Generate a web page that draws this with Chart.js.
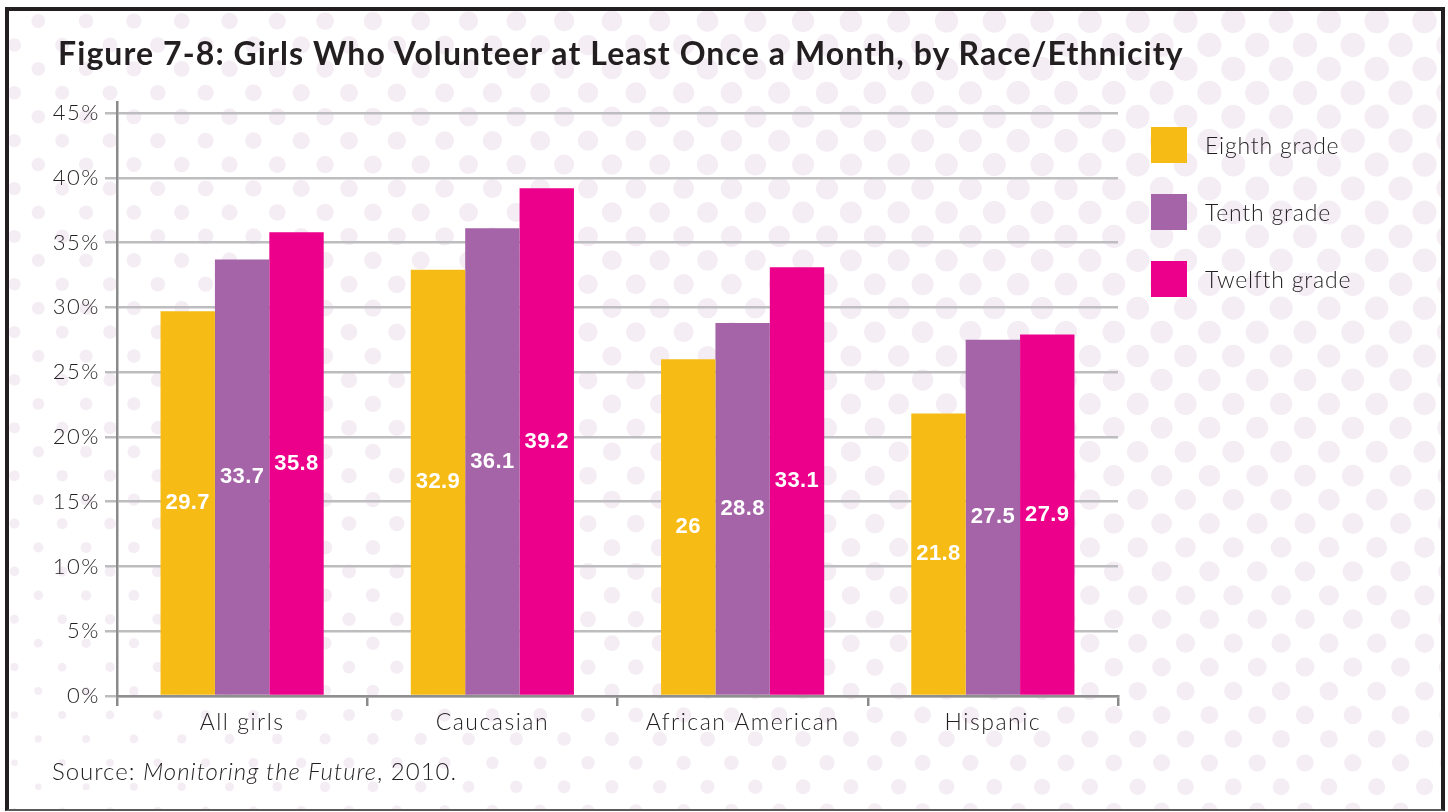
<!DOCTYPE html>
<html>
<head>
<meta charset="utf-8">
<script src="https://cdn.jsdelivr.net/npm/chart.js@4.4.1/dist/chart.umd.min.js"></script>
<style>
  body { margin: 0; background: #fff; }
  #wrap { position: relative; width: 1448px; height: 812px; overflow: hidden; font-family: Lato, "Open Sans", sans-serif; color: #231f20; }
  #chart { position: absolute; left: 0; top: 0; }
  #frame { position: absolute; left: 5px; top: 7px; width: 1432px; height: 798px; border: 4px solid #231f20; border-bottom: 2px solid #5a5a5a; pointer-events: none; }
  #title { position: absolute; left: 58px; top: 34px; font-size: 32px; font-weight: 700; white-space: nowrap; line-height: 1.2; }
  #source { position: absolute; left: 52px; top: 757px; font-size: 24px; font-weight: 300; line-height: 1.2; white-space: nowrap; letter-spacing: 1px; }
  #legend { position: absolute; left: 1151px; top: 127px; }
  .item { display: flex; align-items: center; height: 36px; margin-bottom: 31px; }
  .item span.box { width: 36px; height: 36px; margin-right: 18px; }
  .item span.txt { font-size: 23px; font-weight: 300; letter-spacing: 0.8px; }
</style>
</head>
<body>
<div id="wrap">
  <canvas id="chart" width="1448" height="812"></canvas>
  <div id="title">Figure 7-8: Girls Who Volunteer at Least Once a Month, by Race/Ethnicity</div>
  <div id="legend"></div>
  <div id="source">Source: <i>Monitoring the Future</i>, 2010.</div>
  <div id="frame"></div>
</div>
<script>
const categorias = ['All girls', 'Caucasian', 'African American', 'Hispanic'];
const series = ['Eighth grade', 'Tenth grade', 'Twelfth grade'];
const eighth = [29.7, 32.9, 26, 21.8];
const tenth = [33.7, 36.1, 28.8, 27.5];
const twelfth = [35.8, 39.2, 33.1, 27.9];
const yTicks = [0, 5, 10, 15, 20, 25, 30, 35, 40, 45];

const cores = ['#f6bc15', '#a564a7', '#ec008b'];
const valores = [eighth, tenth, twelfth];

// titulo esticado ate a largura do original
const titulo = document.getElementById('title');
const larguraNatural = titulo.offsetWidth;
const n = titulo.textContent.length;
titulo.style.letterSpacing = ((1125 - larguraNatural) / (n - 1)) + 'px';

// legenda em html
const legenda = document.getElementById('legend');
series.forEach(function (nome, i) {
  const item = document.createElement('div');
  item.className = 'item';
  item.innerHTML = '<span class="box" style="background:' + cores[i] + '"></span><span class="txt">' + nome + '</span>';
  legenda.appendChild(item);
});

// fundo de bolinhas
const bolinhas = {
  id: 'bolinhas',
  beforeDraw(chart) {
    const c = chart.ctx;
    c.save();
    c.beginPath();
    c.rect(9, 11, 1432, 799);
    c.clip();
    c.fillStyle = '#f4edf4';
    for (let k = 0; k < 36; k++) {
      const y = 21 + 23.93 * k;
      const x0 = (k % 2 === 0) ? 38.3 : 14.4;
      for (let x = x0 - 47.8; x < 1460; x += 47.8) {
        const dx = 1448 - x, dy = y * 1.5;
        let d = 24.5 - 5.36e-6 * (dx * dx + dy * dy);
        if (d < 3) d = 3;
        c.beginPath();
        c.arc(x, y, d / 2, 0, Math.PI * 2);
        c.fill();
      }
    }
    c.restore();
    c.letterSpacing = '1.5px';
  }
};

// rotulos dentro das barras
const rotulos = {
  id: 'rotulos',
  afterDatasetsDraw(chart) {
    const c = chart.ctx;
    c.save();
    c.letterSpacing = '0.4px';
    c.fillStyle = '#ffffff';
    c.font = 'bold 22px "Liberation Sans", Arial, sans-serif';
    c.textAlign = 'center';
    c.textBaseline = 'middle';
    chart.data.datasets.forEach(function (ds, i) {
      const meta = chart.getDatasetMeta(i);
      meta.data.forEach(function (bar, j) {
        c.fillText(String(ds.data[j]), bar.x, (bar.y + bar.base) / 2);
      });
    });
    c.restore();
  }
};

const ctx = document.getElementById('chart');

new Chart(ctx, {
  type: 'bar',
  data: {
    labels: categorias,
    datasets: series.map(function (nome, i) {
      return {
        label: nome,
        data: valores[i],
        backgroundColor: cores[i],
        borderWidth: 0,
        categoryPercentage: 0.652,
        barPercentage: 1
      };
    })
  },
  options: {
    responsive: false,
    animation: false,
    devicePixelRatio: 1,
    layout: { padding: { top: 102, right: 330, bottom: 56, left: 0 } },
    plugins: {
      legend: { display: false },
      tooltip: { enabled: false }
    },
    scales: {
      x: {
        afterFit: function (s) { s.height = 60; },
        grid: {
          offset: true,
          drawOnChartArea: false,
          color: '#8a8a8a',
          lineWidth: 2.5,
          tickLength: 10
        },
        border: { color: '#8f8f8f', width: 2.5 },
        ticks: {
          color: '#231f20',
          padding: 3,
          font: { family: 'Lato', size: 23, weight: 300 }
        }
      },
      y: {
        min: 0,
        max: 45.85,
        afterFit: function (s) { s.width = 117; },
        afterBuildTicks: function (s) { s.ticks = yTicks.map(function (v) { return { value: v }; }); },
        grid: {
          color: '#bdbdc0',
          lineWidth: 2.5,
          tickLength: 12
        },
        border: { color: '#8a8a8a', width: 2.5 },
        ticks: {
          color: '#231f20',
          padding: 5,
          font: { family: 'Lato', size: 22, weight: 300 },
          callback: function (v) { return v + '%'; }
        }
      }
    }
  },
  plugins: [bolinhas, rotulos]
});
</script>
</body>
</html>
